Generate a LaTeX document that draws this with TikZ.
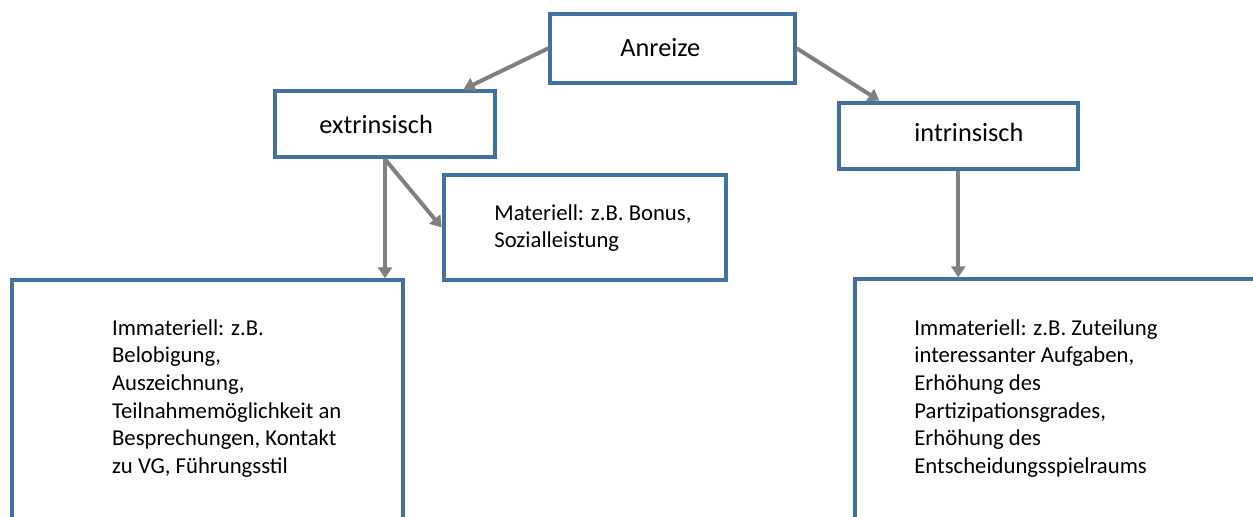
\documentclass[tikz,border=0pt]{standalone}
\usepackage{fontspec}
\setmainfont{Carlito}
\usetikzlibrary{arrows.meta}
\definecolor{boxblue}{RGB}{65,113,156}
\definecolor{arrowgray}{RGB}{128,128,128}
\tikzset{
	box/.style={draw=boxblue, line width=2pt, rectangle, inner sep=0pt},
	pfeil/.style={draw=arrowgray, line width=2pt, -{Triangle[length=5.5pt,width=7pt]}},
	kopf/.style={font=\fontsize{13.15}{16}\selectfont, anchor=base west, inner sep=0pt},
	inhalt/.style={font=\fontsize{11.35}{13.85}\selectfont, align=left, anchor=base west, inner sep=0pt}
}
\begin{document}
\begin{tikzpicture}[x=0.5pt,y=0.5pt]
	\useasboundingbox (0,0) rectangle (1253,-516);
	\fill [white] (0,0) rectangle (1253,-516);
	\clip (0,0) rectangle (1253,-516);
	\node [box, minimum width=122.2pt, minimum height=34.65pt] (anr) at (672.5,-48.3) {};
	\node [kopf] (anrtext) at (620,-56.7) {Anreize};
	\node [box, minimum width=109.7pt, minimum height=33pt] (ext) at (385,-124.3) {};
	\node [kopf] (exttext) at (319,-133) {extrinsisch};
	\node [box, minimum width=119.65pt, minimum height=33.15pt] (int) at (958.3,-135.8) {};
	\node [kopf] (inttext) at (914,-141.7) {intrinsisch};
	\node [box, minimum width=141.3pt, minimum height=52.2pt] (mat) at (585,-227.5) {};
	\node [inhalt] (mattext) at (494,-247.7) {Materiell: z.B. Bonus,\\Sozialleistung};
	\node [box, minimum width=195.5pt, minimum height=140pt] (lbox) at (207.5,-420.3) {};
	\node [inhalt] (ltext) at (111.7,-473.5) {Immateriell: z.B.\\Belobigung,\\Auszeichnung,\\Teilnahmemöglichkeit an\\Besprechungen, Kontakt\\zu VG, Führungsstil};
	\node [box, minimum width=222.3pt, minimum height=140.7pt] (rbox) at (1077,-420) {};
	\node [inhalt] (rtext) at (914,-473.5) {Immateriell: z.B. Zuteilung\\interessanter Aufgaben,\\Erhöhung des\\Partizipationsgrades,\\Erhöhung des\\Entscheidungsspielraums};
	\draw [pfeil] (anr.west) -- (ext.24);
	\draw [pfeil] (anr.east) -- (int.156);
	\draw [pfeil] (ext.south) -- (ext.south |- lbox.north);
	\draw [pfeil] (ext.south) -- (mat.west);
	\draw [pfeil] (int.south) -- (int.south |- rbox.north);
\end{tikzpicture}
\end{document}
